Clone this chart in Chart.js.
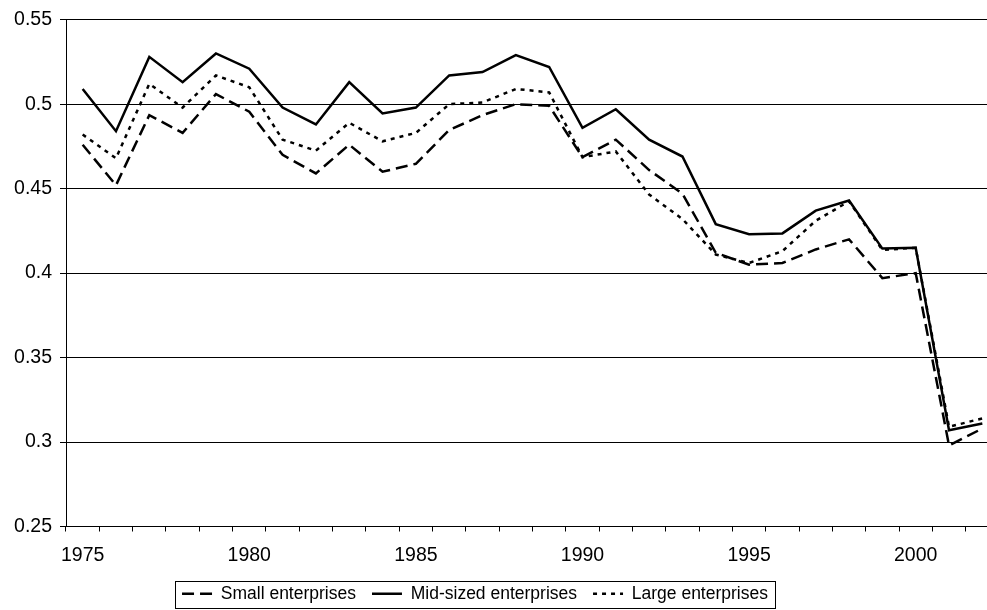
<!DOCTYPE html>
<html>
<head>
<meta charset="utf-8">
<title>Enterprises</title>
<script src="https://cdn.jsdelivr.net/npm/chart.js@4.4.0/dist/chart.umd.min.js"></script>
<style>
    html, body { margin: 0; padding: 0; background: #fff; overflow: hidden; }
    #wrap { width: 1010px; height: 610px; }
</style>
</head>
<body>
<div id="wrap"><canvas id="line1" width="1010" height="610"></canvas></div>
<script>

const years = [1975, 1976, 1977, 1978, 1979, 1980, 1981, 1982, 1983, 1984,
    1985, 1986, 1987, 1988, 1989, 1990, 1991, 1992, 1993, 1994,
    1995, 1996, 1997, 1998, 1999, 2000, 2001, 2002];

// only every fifth year gets a label
const labelledYears = [1975, 1980, 1985, 1990, 1995, 2000];

const smallEnterprises = [0.476, 0.452, 0.4935, 0.483, 0.506, 0.4955, 0.470, 0.459, 0.476, 0.460,
    0.4647, 0.4847, 0.4935, 0.500, 0.499, 0.4686, 0.479, 0.461, 0.447, 0.412,
    0.405, 0.406, 0.414, 0.420, 0.397, 0.400, 0.298, 0.308];

const midSizedEnterprises = [0.509, 0.484, 0.528, 0.513, 0.530, 0.521, 0.498, 0.488, 0.513, 0.4945,
    0.498, 0.517, 0.519, 0.529, 0.522, 0.486, 0.497, 0.479, 0.469, 0.429,
    0.423, 0.4235, 0.437, 0.443, 0.4145, 0.415, 0.307, 0.311];

const largeEnterprises = [0.482, 0.468, 0.512, 0.498, 0.517, 0.510, 0.479, 0.4725, 0.489, 0.478,
    0.483, 0.500, 0.501, 0.509, 0.507, 0.4686, 0.472, 0.4465, 0.432, 0.411,
    0.406, 0.413, 0.431, 0.4425, 0.4137, 0.415, 0.309, 0.314];

const yMin = 0.25;
const yMax = 0.55;
const yStep = 0.05;

const tickFont = { family: '"Liberation Sans", Arial, sans-serif', size: 19.5 };
const legendFont = { family: '"Liberation Sans", Arial, sans-serif', size: 17.5 };

// legend sits in a framed box, not centred on the plot
const legendBox = {
    id: 'legendBox',
    afterLayout(chart) {
        const lg = chart.legend;
        lg.left = 155;
        lg.right = 795;
        lg.width = 640;
        lg.top = 569;
        lg.bottom = 612;
    },
    afterDraw(chart) {
        const ctx = chart.ctx;
        ctx.save();
        ctx.strokeStyle = '#000';
        ctx.lineWidth = 1;
        ctx.strokeRect(175.5, 581.5, 600, 27);
        ctx.restore();
    }
};

function drawChart() {
    const ctx = document.getElementById('line1');

    const data = {
        labels: years,
        datasets: [{
            label: 'Small enterprises',
            data: smallEnterprises,
            borderColor: '#000',
            borderWidth: 2.5,
            borderDash: [12, 6],
            fill: false
        }, {
            label: 'Mid-sized enterprises',
            data: midSizedEnterprises,
            borderColor: '#000',
            borderWidth: 2.5,
            fill: false
        }, {
            label: 'Large enterprises',
            data: largeEnterprises,
            borderColor: '#000',
            borderWidth: 2.5,
            borderDash: [4, 5],
            fill: false
        }]
    };

    new Chart(ctx, {
        type: 'line',
        data: data,
        plugins: [legendBox],
        options: {
            responsive: false,
            animation: false,
            layout: { padding: { left: 0, right: 11, top: 17, bottom: 0 } },
            elements: {
                point: { radius: 0 },
                line: { tension: 0 }
            },
            plugins: {
                tooltip: { enabled: false },
                legend: {
                    position: 'bottom',
                    labels: {
                        usePointStyle: true,
                        pointStyle: 'line',
                        pointStyleWidth: 30,
                        padding: 16,
                        color: '#000',
                        font: legendFont,
                        // point style loses the dash, so copy it from the dataset
                        generateLabels: function (chart) {
                            const items = Chart.defaults.plugins.legend.labels.generateLabels(chart);
                            items.forEach(function (item) {
                                const ds = chart.data.datasets[item.datasetIndex];
                                item.lineDash = ds.borderDash || [];
                                item.lineWidth = ds.borderWidth;
                                item.strokeStyle = ds.borderColor;
                            });
                            return items;
                        }
                    }
                }
            },
            scales: {
                x: {
                    type: 'category',
                    offset: true,
                    grid: {
                        display: true,
                        drawOnChartArea: false,
                        drawTicks: true,
                        tickLength: 5,
                        offset: true,
                        color: '#000'
                    },
                    border: { display: true, color: '#000', width: 1 },
                    ticks: {
                        autoSkip: false,
                        maxRotation: 0,
                        padding: 12,
                        color: '#000',
                        font: tickFont,
                        callback: function (value, index) {
                            return labelledYears.includes(years[index]) ? String(years[index]) : '';
                        }
                    },
                    afterFit: function (scale) { scale.height = 40; }
                },
                y: {
                    min: yMin,
                    max: yMax,
                    grid: { color: '#000', lineWidth: 1, tickLength: 6 },
                    border: { display: true, color: '#000', width: 1 },
                    ticks: {
                        stepSize: yStep,
                        padding: 8,
                        color: '#000',
                        font: tickFont,
                        callback: function (value) {
                            return String(Number(value.toFixed(2)));
                        }
                    },
                    afterFit: function (scale) { scale.width = 66; }
                }
            }
        }
    });
}

drawChart();
</script>
</body>
</html>
